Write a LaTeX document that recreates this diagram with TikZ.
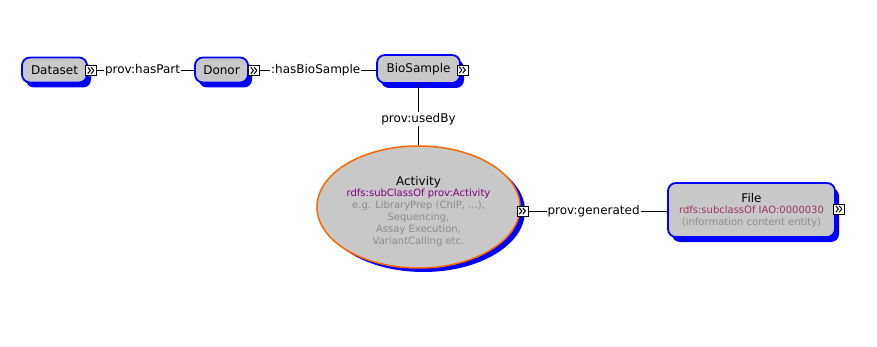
\documentclass[tikz,border=0pt]{standalone}
\usepackage{fontspec}
\setmainfont{DejaVu Sans}
\usetikzlibrary{shadows,shapes.geometric}
\definecolor{boxfill}{RGB}{200,200,200}
\definecolor{boxblue}{RGB}{0,0,250}
\definecolor{actorange}{RGB}{255,102,0}
\definecolor{subpurple}{RGB}{128,0,128}
\definecolor{subrose}{RGB}{153,51,102}
\definecolor{notegray}{RGB}{140,140,140}
\begin{document}
\begin{tikzpicture}[x=1pt,y=-1pt,
  bluedrop/.style={drop shadow={shadow xshift=4pt,shadow yshift=-5pt,fill=boxblue,opacity=1}},
  classbox/.style={draw=boxblue,line width=1.8pt,fill=boxfill,rounded corners=8pt,
    inner sep=0pt,font=\fontsize{12}{14}\selectfont,bluedrop},
  actnode/.style={ellipse,draw=actorange,line width=1.5pt,fill=boxfill,inner sep=0pt,
    drop shadow={shadow xshift=5pt,shadow yshift=-4pt,fill=boxblue,opacity=1}},
  expander/.style={draw=black,line width=0.8pt,fill=white,inner sep=0pt,
    minimum width=11,minimum height=10,
    path picture={
      \draw[line width=1pt,line join=miter]
        ([xshift=-3.2pt,yshift=3.2pt]path picture bounding box.center)
        -- ++(2.6pt,-3.2pt) -- ++(-2.6pt,-3.2pt);
      \draw[line width=1pt,line join=miter]
        ([xshift=0.2pt,yshift=3.2pt]path picture bounding box.center)
        -- ++(2.6pt,-3.2pt) -- ++(-2.6pt,-3.2pt);}},
  link/.style={draw=black,line width=0.9pt},
  lbl/.style={fill=white,inner sep=1pt,font=\fontsize{12}{14}\selectfont}]
\useasboundingbox (0,0) rectangle (877,347);

% class boxes
\node[classbox,minimum width=65,minimum height=25] (dataset) at (54.5,70) {Dataset};
\node[classbox,minimum width=53,minimum height=25] (donor) at (221.5,70) {Donor};
\node[classbox,minimum width=83,minimum height=28] (biosample) at (418.5,69) {BioSample};

% activity ellipse
\node[actnode,minimum width=203,minimum height=122] (activity) at (418.5,207) {};
\node[align=center,inner sep=0pt] (acttext) at (418.5,211) {%
  \fontsize{12}{13}\selectfont Activity\\[-1pt]
  \fontsize{10}{12}\selectfont\color{subpurple}rdfs:subClassOf prov:Activity\\
  \fontsize{10}{12}\selectfont\color{notegray}e.g. LibraryPrep (ChIP, ...),\\
  \fontsize{10}{12}\selectfont\color{notegray}Sequencing,\\
  \fontsize{10}{12}\selectfont\color{notegray}Assay Execution,\\
  \fontsize{10}{12}\selectfont\color{notegray}VariantCalling etc.};

% file box
\node[classbox,minimum width=167,minimum height=54] (file) at (751.5,210) {};
\node[align=center,inner sep=0pt] (filetext) at (751.5,210) {%
  \fontsize{12}{13}\selectfont File\\[-1pt]
  \fontsize{10}{12}\selectfont\color{subrose}rdfs:subclassOf IAO:0000030\\
  \fontsize{10}{12}\selectfont\color{notegray}(information content entity)};

% expand markers
\node[expander] (dsx) at (91,70.5) {};
\node[expander] (dox) at (254,70.5) {};
\node[expander] (bsx) at (462.5,70) {};
\node[expander] (acx) at (522.5,211) {};
\node[expander] (fix) at (839,209) {};

% properties
\draw[link] (dsx.east) -- node[lbl,pos=0.47]{prov:hasPart} (dsx.east -| donor.west);
\draw[link] (dox.east) -- node[lbl,pos=0.48]{:hasBioSample} (dox.east -| biosample.west);
\draw[link] (biosample.south) -- node[lbl,pos=0.57]{prov:usedBy} (activity.north);
\draw[link] (acx.east) -- node[lbl,pos=0.47]{prov:generated} (acx.east -| file.west);
\end{tikzpicture}
\end{document}
